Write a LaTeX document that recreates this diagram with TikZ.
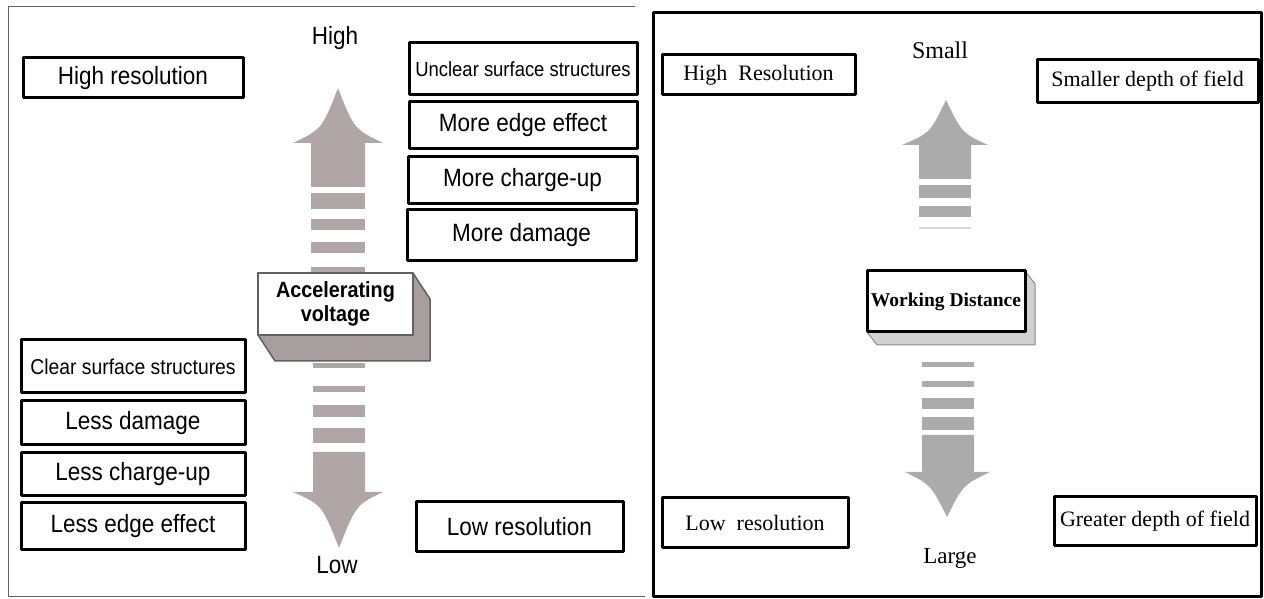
\documentclass[tikz,border=0pt]{standalone}
\usepackage{fontspec}
\setmainfont{Liberation Serif}
\newfontfamily\volsans[FakeStretch=0.9]{Liberation Sans}
\begin{document}
\begin{tikzpicture}[>=latex,line join=bevel,
  vbox/.style={draw,rectangle,line width=3bp,inner sep=0pt,font=\volsans\fontsize{25bp}{28bp}\selectfont},
  wbox/.style={draw,rectangle,line width=3bp,inner sep=0pt,font=\fontsize{22bp}{25bp}\selectfont},
  ]
\useasboundingbox (0bp,0bp) rectangle (1264bp,599bp);
\definecolor{framecol}{rgb}{0.38,0.38,0.38};
\definecolor{arrowvol}{rgb}{0.69,0.65,0.65};
\definecolor{slabvol}{rgb}{0.66,0.62,0.62};
\definecolor{arrowwd}{rgb}{0.67,0.67,0.67};
%% left panel: accelerating voltage
\draw [framecol,line width=1bp] (635bp,592bp) -- (8bp,592bp) -- (8bp,2bp) -- (645bp,2bp);
  \node (High) at (335bp,561bp) [font=\volsans\fontsize{25bp}{28bp}\selectfont] {High};
  \node (Low) at (337bp,34bp) [font=\volsans\fontsize{25bp}{28bp}\selectfont] {Low};
  % up arrow
  \fill [arrowvol] (311bp,412bp) -- (311bp,456bp) -- (293bp,456bp) .. controls (322bp,470bp) .. (338bp,511bp)
    .. controls (354bp,470bp) .. (383bp,456bp) -- (365bp,456bp) -- (365bp,412bp) -- cycle;
  \foreach \a/\b in {406/390,380/369,357/346,332/326}
    \fill [arrowvol] (311bp,\a bp) rectangle (365bp,\b bp);
  % down arrow
  \fill [arrowvol] (313bp,147bp) -- (313bp,107bp) -- (293bp,107bp) .. controls (322bp,94bp) .. (339bp,51bp)
    .. controls (356bp,94bp) .. (383bp,107bp) -- (365bp,107bp) -- (365bp,147bp) -- cycle;
  \foreach \a/\b in {236/231,213/207,194/182,171/156}
    \fill [arrowvol] (313bp,\a bp) rectangle (365bp,\b bp);
  % slab
  \filldraw [fill=slabvol,draw=framecol,line width=1.5bp] (413bp,326bp) -- (430bp,300bp) -- (430bp,238bp) -- (275bp,238bp) -- (258bp,264bp) -- cycle;
  \node (AccVolt) at (335.5bp,295bp) [draw=framecol,fill=white,line width=2bp,minimum width=155bp,minimum height=62bp,inner sep=0pt,align=center,font=\volsans\bfseries\fontsize{22bp}{24bp}\selectfont] {Accelerating\\voltage};
  \node (HighRes) at (133bp,521bp) [vbox,minimum width=220bp,minimum height=40bp] {High resolution};
  \node (Unclear) at (523bp,530bp) [vbox,minimum width=228bp,minimum height=52bp,font=\volsans\fontsize{20.5bp}{24bp}\selectfont] {Unclear surface structures};
  \node (MoreEdge) at (523bp,473.5bp) [vbox,minimum width=228bp,minimum height=47bp] {More edge effect};
  \node (MoreCharge) at (522.5bp,418.5bp) [vbox,minimum width=229bp,minimum height=47bp] {More charge-up};
  \node (MoreDamage) at (521.5bp,363.5bp) [vbox,minimum width=229bp,minimum height=51bp] {More damage};
  \node (ClearSurf) at (133bp,232.5bp) [vbox,minimum width=224bp,minimum height=53bp,font=\volsans\fontsize{21.5bp}{24bp}\selectfont] {Clear surface structures};
  \node (LessDamage) at (133bp,176bp) [vbox,minimum width=224bp,minimum height=44bp] {Less damage};
  \node (LessCharge) at (133bp,124.5bp) [vbox,minimum width=224bp,minimum height=43bp] {Less charge-up};
  \node (LessEdge) at (133bp,72.5bp) [vbox,minimum width=224bp,minimum height=47bp] {Less edge effect};
  \node (LowRes) at (519.5bp,72bp) [vbox,minimum width=207bp,minimum height=50bp] {Low resolution};
%% right panel: working distance
\draw [line width=3bp] (653bp,586bp) rectangle (1261bp,2bp);
  \node (Small) at (940bp,549bp) [font=\fontsize{24bp}{27bp}\selectfont] {Small};
  \node (Large) at (950bp,41bp) [font=\fontsize{23bp}{26bp}\selectfont] {Large};
  % up arrow
  \fill [arrowwd] (919bp,420bp) -- (919bp,454bp) -- (902bp,454bp) .. controls (930bp,466bp) .. (946bp,499bp)
    .. controls (962bp,466bp) .. (988bp,454bp) -- (971bp,454bp) -- (971bp,420bp) -- cycle;
  \foreach \a/\b in {414/401,393/382}
    \fill [arrowwd] (919bp,\a bp) rectangle (971bp,\b bp);
  \fill [arrowwd!45] (919bp,372bp) rectangle (971bp,370bp);
  % down arrow
  \fill [arrowwd] (922bp,164bp) -- (922bp,127bp) -- (905bp,127bp) .. controls (931bp,114bp) .. (947bp,82bp)
    .. controls (963bp,114bp) .. (990bp,127bp) -- (974bp,127bp) -- (974bp,164bp) -- cycle;
  \foreach \a/\b in {237/232,218/212,201/190,182/169}
    \fill [arrowwd] (922bp,\a bp) rectangle (974bp,\b bp);
  % slab
  \filldraw [fill=black!18,draw=black!45,line width=1bp] (1025bp,328bp) -- (1035bp,315bp) -- (1035bp,254bp) -- (877bp,254bp) -- (867bp,267bp) -- cycle;
  \node (WorkDist) at (946bp,297.5bp) [draw,fill=white,line width=3bp,minimum width=158bp,minimum height=61bp,inner sep=0pt,font=\bfseries\fontsize{19.5bp}{22bp}\selectfont] {Working Distance};
  \node (HighRes2) at (758.5bp,524bp) [wbox,minimum width=193bp,minimum height=40bp] {High\ \ Resolution};
  \node (SmallerDoF) at (1147.5bp,517.5bp) [wbox,minimum width=221bp,minimum height=43bp] {Smaller depth of field};
  \node (LowRes2) at (755bp,76bp) [wbox,minimum width=186bp,minimum height=50bp] {Low\ \ resolution};
  \node (GreaterDoF) at (1155bp,77.5bp) [wbox,minimum width=202bp,minimum height=49bp] {Greater depth of field};
%
\end{tikzpicture}
\end{document}
